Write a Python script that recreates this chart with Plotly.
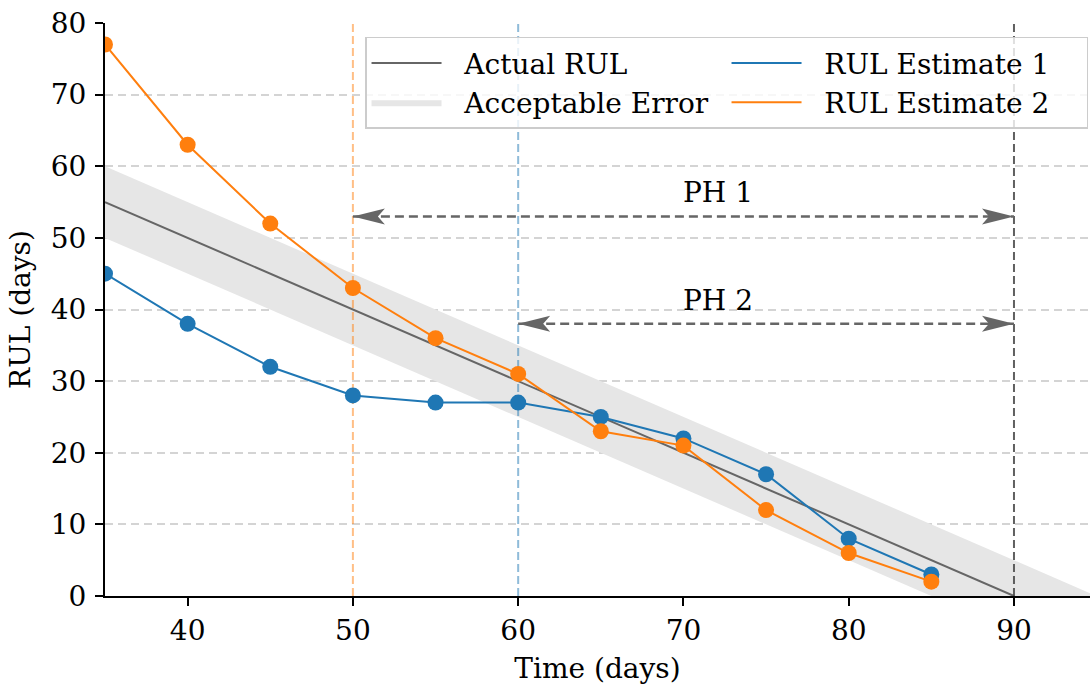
import plotly.graph_objects as go

# Sample times (days) and remaining-useful-life estimates (days)
time_days = [35, 40, 45, 50, 55, 60, 65, 70, 75, 80, 85]
rul_estimate_1 = [45, 38, 32, 28, 27, 27, 25, 22, 17, 8, 3]
rul_estimate_2 = [77, 63, 52, 43, 36, 31, 23, 21, 12, 6, 2]

# Ground-truth RUL line and its acceptable error band
actual_time = [35, 90]
actual_rul = [55, 0]
band_time = [35, 95]
band_upper = [60, 0]
band_lower = [50, -10]

# Prognostic horizons: start time of each estimate, end of life, label level
ph_labels = ["PH 1", "PH 2"]
ph_start = [50, 60]
ph_level = [53, 38]
ph_label_x = 70
end_of_life = 90

x_ticks = [40, 50, 60, 70, 80, 90]
y_ticks = [0, 10, 20, 30, 40, 50, 60, 70, 80]

FONT = "DejaVu Serif"
SIZE = 28
BLUE = "#1f77b4"
ORANGE = "#ff7f0e"
GRAY = "#666666"
PAD = "&nbsp;&nbsp;"  # spacing between legend sample and label

fig = go.Figure()

# Acceptable error band
fig.add_trace(go.Scatter(
    x=band_time + band_time[::-1],
    y=band_upper + band_lower[::-1],
    fill="toself", fillcolor="#e6e6e6", mode="lines",
    line=dict(width=0, color="#e6e6e6"),
    name=PAD + "Acceptable Error", legendrank=3, hoverinfo="skip",
))

# Actual RUL
fig.add_trace(go.Scatter(
    x=actual_time, y=actual_rul, mode="lines",
    line=dict(color=GRAY, width=2),
    name=PAD + "Actual RUL", legendrank=1,
))

# Vertical markers: start of each horizon and end of life
for t, col in [(ph_start[0], "rgba(255,127,14,0.5)"),
               (ph_start[1], "rgba(31,119,180,0.5)"),
               (end_of_life, "rgba(68,68,68,0.85)")]:
    fig.add_trace(go.Scatter(
        x=[t, t], y=[y_ticks[0], y_ticks[-1]], mode="lines",
        line=dict(color=col, width=2, dash="8px,4px"),
        showlegend=False, hoverinfo="skip",
    ))

# Horizon arrows (dashed shafts with filled heads)
for start, level in zip(ph_start, ph_level):
    fig.add_trace(go.Scatter(
        x=[start, end_of_life], y=[level, level], mode="lines",
        line=dict(color=GRAY, width=2.5, dash="9px,5px"),
        showlegend=False, hoverinfo="skip",
    ))
    for tip, path in [(start, "M0,0 L32,8 L25,0 L32,-8 Z"),
                      (end_of_life, "M0,0 L-32,8 L-25,0 L-32,-8 Z")]:
        fig.add_shape(
            type="path", path=path,
            xsizemode="pixel", ysizemode="pixel",
            xanchor=tip, yanchor=level, xref="x", yref="y",
            fillcolor=GRAY, line=dict(width=0), layer="above",
        )

for label, level in zip(ph_labels, ph_level):
    fig.add_annotation(
        x=ph_label_x, y=level, text=label, showarrow=False,
        xanchor="left", yanchor="bottom", yshift=5, xshift=-2,
        font=dict(family=FONT, size=SIZE, color="black"),
    )

# Estimates: line entries for the legend, markers drawn on top
for vals, col, name, rank in [(rul_estimate_1, BLUE, "RUL Estimate 1", 2),
                              (rul_estimate_2, ORANGE, "RUL Estimate 2", 4)]:
    fig.add_trace(go.Scatter(
        x=time_days, y=vals, mode="lines",
        line=dict(color=col, width=2), name=PAD + name, legendrank=rank,
    ))
    fig.add_trace(go.Scatter(
        x=time_days, y=vals, mode="markers",
        marker=dict(color=col, size=16), showlegend=False,
    ))

axis_font = dict(family=FONT, size=SIZE, color="black")

fig.update_layout(
    width=1090, height=686,
    margin=dict(l=105, r=0, t=23, b=90, autoexpand=False),
    paper_bgcolor="white", plot_bgcolor="white",
    font=axis_font,
    showlegend=True,
    legend=dict(
        orientation="h", x=0.998, y=0.976, xanchor="right", yanchor="top",
        bgcolor="rgba(255,255,255,0.8)", bordercolor="#cccccc", borderwidth=1.5,
        font=axis_font, entrywidth=275, itemwidth=70, traceorder="normal",
    ),
    xaxis=dict(
        range=[35, 94.6], tickvals=x_ticks, ticks="outside", ticklen=8,
        tickwidth=1.5, tickcolor="black", showline=True, linecolor="black",
        linewidth=2, showgrid=False, zeroline=False, tickfont=axis_font,
        ticklabelstandoff=0,
        title=dict(text="Time (days)", font=axis_font, standoff=13),
    ),
    yaxis=dict(
        range=[0, 80], tickvals=y_ticks, ticks="outside", ticklen=8,
        tickwidth=1.5, tickcolor="black", showline=True, linecolor="black",
        linewidth=2, showgrid=True, gridcolor="#d4d4d4", griddash="8px,5px",
        gridwidth=1.5, zeroline=False, tickfont=axis_font,
        ticklabelstandoff=3,
        title=dict(text="RUL (days)", font=axis_font, standoff=12),
    ),
)

fig.write_html("out.html")
